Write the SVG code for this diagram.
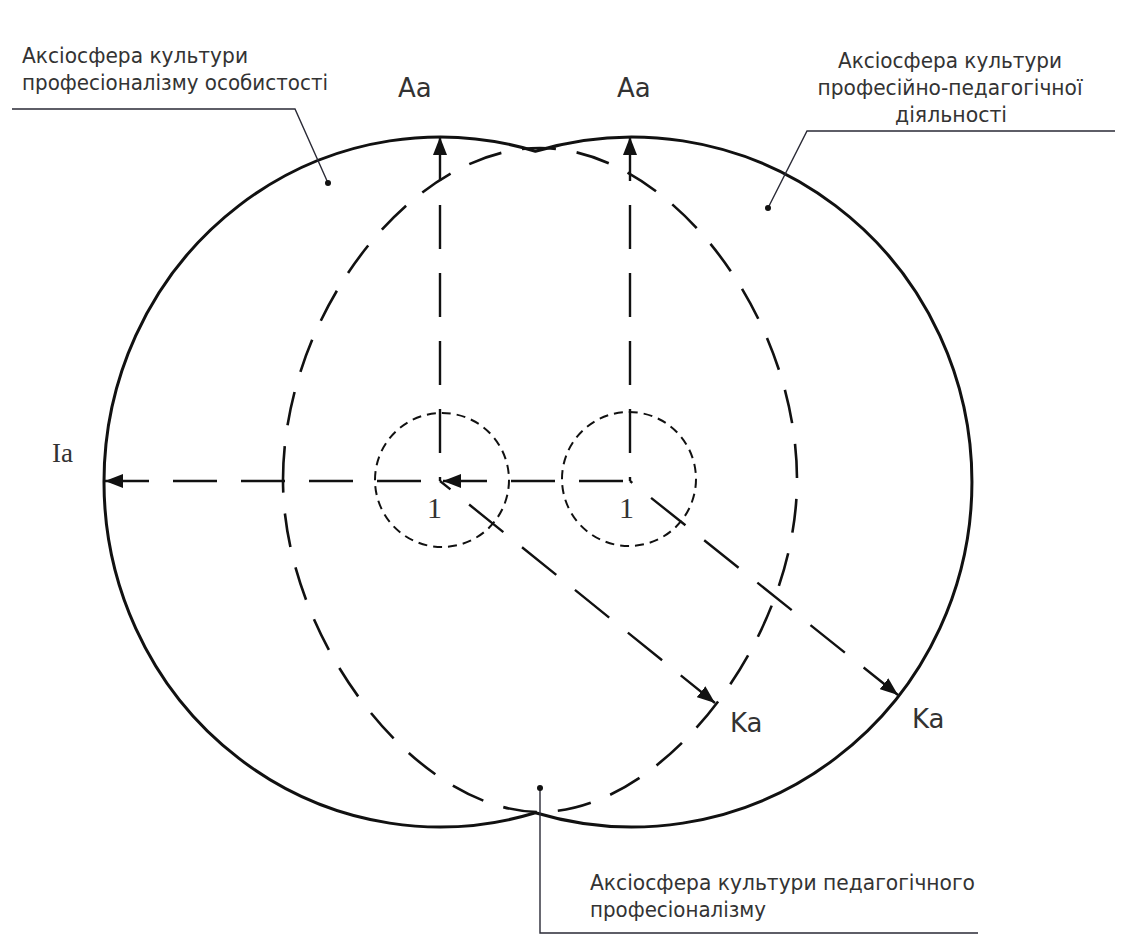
<svg xmlns="http://www.w3.org/2000/svg" width="1121" height="944" viewBox="0 0 1121 944">
<style>
.bg{fill:#ffffff}
.outline{fill:none;stroke:#111;stroke-width:3}
.big{fill:none;stroke:#111;stroke-width:2.6;stroke-dasharray:34 21}
.small{fill:none;stroke:#111;stroke-width:2;stroke-dasharray:9 6}
.ray{fill:none;stroke:#111;stroke-width:2.4;stroke-dasharray:44 24;marker-start:url(#ah)}
.lead{fill:none;stroke:#2a2a36;stroke-width:1.4}
.dot{fill:#111}
.lbl{font-family:"DejaVu Sans",Verdana,sans-serif;font-size:21px;fill:#333}
.big-s{font-family:"DejaVu Sans",Verdana,sans-serif;font-size:26px;fill:#333}
.big-r{font-family:"Liberation Serif","Times New Roman",serif;font-size:27px;fill:#333}
.num{font-family:"Liberation Serif","Times New Roman",serif;font-size:30px;fill:#333}
</style>
<defs>
<marker id="ah" viewBox="0 0 18 14" refX="18" refY="7" markerWidth="18" markerHeight="14" markerUnits="userSpaceOnUse" orient="auto-start-reverse">
<path d="M0,0 L18,7 L0,14 Z" fill="#111"/>
</marker>
</defs>
<rect class="bg" x="0" y="0" width="1121" height="944"/>

<g id="outer-shape">
<path class="outline" d="M535.4,151.2 A336 345 0 1 0 535.4,812.8 A340 345 0 1 0 535.4,151.2 Z"/>
</g>

<g id="inner-sphere">
<path class="big" d="M283,480 C283,314 411.5,148 540,148 C668.5,148 797,314 797,480 C797,639.4 663.4,812 540,812 C416.6,812 283,639.4 283,480 Z"/>
</g>

<g id="core-left">
<circle class="small" cx="442" cy="480" r="67"/>
<text class="num" x="427" y="518">1</text>
</g>
<g id="core-right">
<circle class="small" cx="629" cy="479" r="67"/>
<text class="num" x="619" y="518">1</text>
</g>

<g id="connectors">
<path class="ray" d="M440,137 L440,481"/>
<path class="ray" d="M630,137 L630,481"/>
<path class="ray" d="M105,481 L440,481"/>
<path class="ray" d="M443,481 L630,481"/>
<path class="ray" d="M715,703 L440,481"/>
<path class="ray" d="M898,695 L630,481"/>
<polyline class="lead" points="12,109 295,109 328,183"/>
<circle class="dot" cx="328" cy="183" r="3"/>
<polyline class="lead" points="768,208 807,131 1115,131"/>
<circle class="dot" cx="768" cy="208" r="3"/>
<polyline class="lead" points="540,788 540,933 978,933"/>
<circle class="dot" cx="540" cy="788" r="3"/>
</g>

<g id="axis-labels">
<text class="big-s" x="398" y="97">Aa</text>
<text class="big-s" x="617" y="97">Aa</text>
<text class="big-r" x="52" y="462">Ia</text>
<text class="big-s" x="730" y="732">Ka</text>
<text class="big-s" x="912" y="728">Ka</text>
</g>

<g id="label-personal">
<text class="lbl" x="22" y="63" textLength="226" lengthAdjust="spacingAndGlyphs">Аксіосфера культури</text>
<text class="lbl" x="22" y="90" textLength="306" lengthAdjust="spacingAndGlyphs">професіоналізму особистості</text>
</g>

<g id="label-activity">
<text class="lbl" x="950" y="68" text-anchor="middle" textLength="224" lengthAdjust="spacingAndGlyphs">Аксіосфера культури</text>
<text class="lbl" x="950" y="95" text-anchor="middle" textLength="265" lengthAdjust="spacingAndGlyphs">професійно-педагогічної</text>
<text class="lbl" x="951" y="122" text-anchor="middle" textLength="112" lengthAdjust="spacingAndGlyphs">діяльності</text>
</g>

<g id="label-pedagogical">
<text class="lbl" x="590" y="890" textLength="385" lengthAdjust="spacingAndGlyphs">Аксіосфера культури педагогічного</text>
<text class="lbl" x="590" y="917" textLength="176" lengthAdjust="spacingAndGlyphs">професіоналізму</text>
</g>
</svg>
